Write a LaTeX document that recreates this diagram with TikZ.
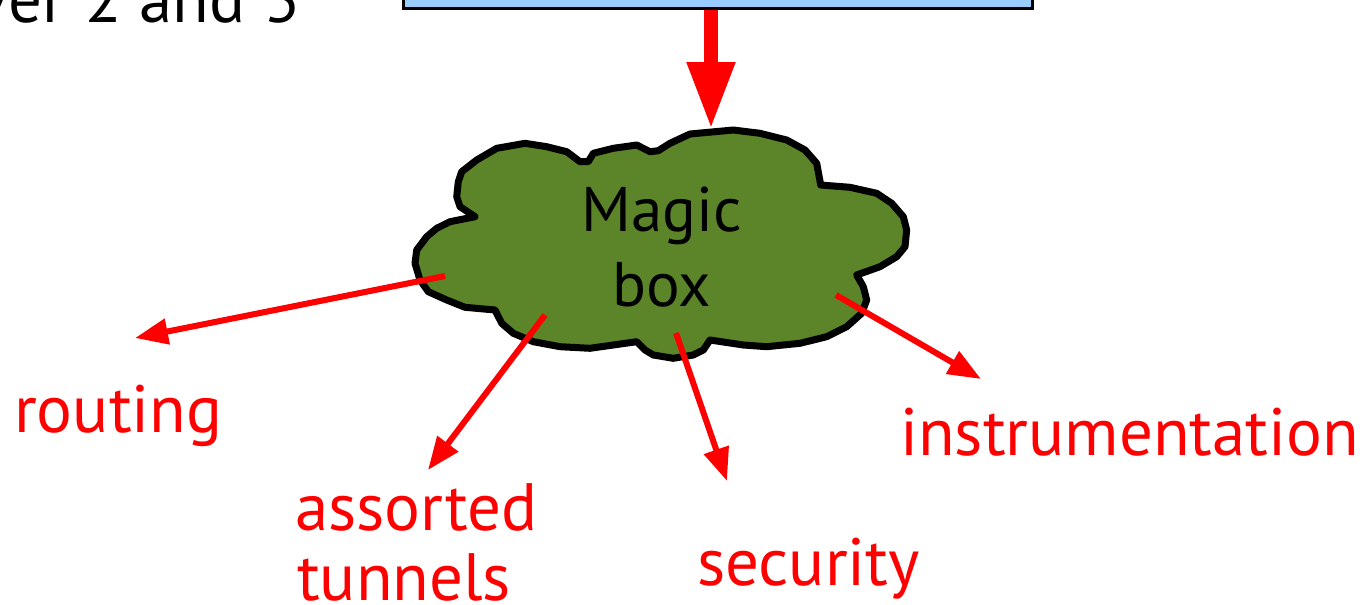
\documentclass[tikz,border=0pt]{standalone}
\usepackage{fontspec}
\setmainfont{PT Sans}
\usetikzlibrary{arrows.meta}
\definecolor{boxblue}{RGB}{153,204,255}
\definecolor{cloudgreen}{RGB}{92,132,40}
\definecolor{lblred}{RGB}{255,0,0}
\tikzset{
  lbl/.style={text=lblred, font=\fontsize{67}{70}\selectfont, inner sep=0pt, anchor=base west},
  redarrow/.style={draw=lblred, line width=6pt, -{Triangle[length=33pt,width=25pt]}},
  bigarrow/.style={draw=lblred, line width=14pt, -{Triangle[length=67pt,width=45pt]}},
}
\begin{document}
\begin{tikzpicture}[x=1pt,y=-1pt]
\useasboundingbox (0,0) rectangle (1363,605);
\begin{scope}
\clip (0,0) rectangle (1363,605);
% top-left partial text
\node[inner sep=0pt, anchor=base east, font=\fontsize{67}{70}\selectfont] (toptext) at (300,22) {ver\hspace{2pt} 2 and 3};
% top box (partially visible)
\node[draw=black, fill=boxblue, line width=3pt, minimum width=629pt, minimum height=80pt, inner sep=0pt] (box) at (717.5,-32) {};
% cloud
\draw[fill=cloudgreen, draw=black, line width=7pt, line join=round]
 (416.7,250) -- (426.7,236.7) -- (436.7,228.3) -- (450,221.7) -- (475,216.7) -- (460,206.7)
 -- (456.7,196.7) -- (458.3,181.7) -- (461.7,171.7) -- (476.7,160) -- (496.7,148.3) -- (525,143.3)
 -- (546.7,146.7) -- (566.7,151.7) -- (580,161.7) -- (588.3,161.7) -- (593.3,153.3) -- (613.3,148.3)
 -- (636.7,145) -- (650,151.7) -- (658.3,150.7) -- (670,143.3) -- (690,134) -- (733.3,130)
 -- (760,133.3) -- (786.7,140) -- (805,150) -- (816.7,163.3) -- (820.7,185) -- (850,187.3)
 -- (876.7,193.3) -- (891.7,203.3) -- (903.3,216.7) -- (906.7,230) -- (905,246.7) -- (896.7,256.7)
 -- (880,266.7) -- (856.7,275) -- (863.3,286.7) -- (866.7,300) -- (861.7,313.3) -- (846.7,326.7)
 -- (826.7,336.7) -- (800,343.3) -- (766.7,346.7) -- (743.3,345) -- (710,340) -- (703.3,350)
 -- (693.3,355) -- (673.3,358.3) -- (653.3,355) -- (645,350) -- (636.7,341.7) -- (613.3,345)
 -- (590,348.3) -- (560,346.7) -- (533.3,341.7) -- (513.3,333.3) -- (501.7,323.3) -- (495,310)
 -- (465,307.3) -- (446.7,300) -- (428.3,291.7) -- (420,280) -- (415,263.3) -- cycle;
\node[align=center, inner sep=0pt, font=\fontsize{63}{75}\selectfont] (cloud) at (662,247) {Magic\\box};
% connector end points
\coordinate (ctop) at (711,129);
\coordinate (sRout) at (445,276);
\coordinate (eRout) at (135,338);
\coordinate (sTun) at (545,315);
\coordinate (eTun) at (428,470);
\coordinate (sSec) at (676,333);
\coordinate (eSec) at (727,481);
\coordinate (sIns) at (836,295);
\coordinate (eIns) at (981,379);
% labels
\node[lbl] (routing) at (14,432) {routing};
\node[lbl] (assorted) at (295,530) {assorted};
\node[lbl] (tunnels) at (297,600) {tunnels};
\node[lbl] (security) at (697,585) {security};
\node[lbl] (instr) at (900,455) {instrumentation};
% arrows
\draw[bigarrow] (box.south -| ctop) -- (ctop);
\draw[redarrow] (sRout) -- (eRout);
\draw[redarrow] (sTun) -- (eTun);
\draw[redarrow] (sSec) -- (eSec);
\draw[redarrow] (sIns) -- (eIns);
\end{scope}
\end{tikzpicture}
\end{document}
